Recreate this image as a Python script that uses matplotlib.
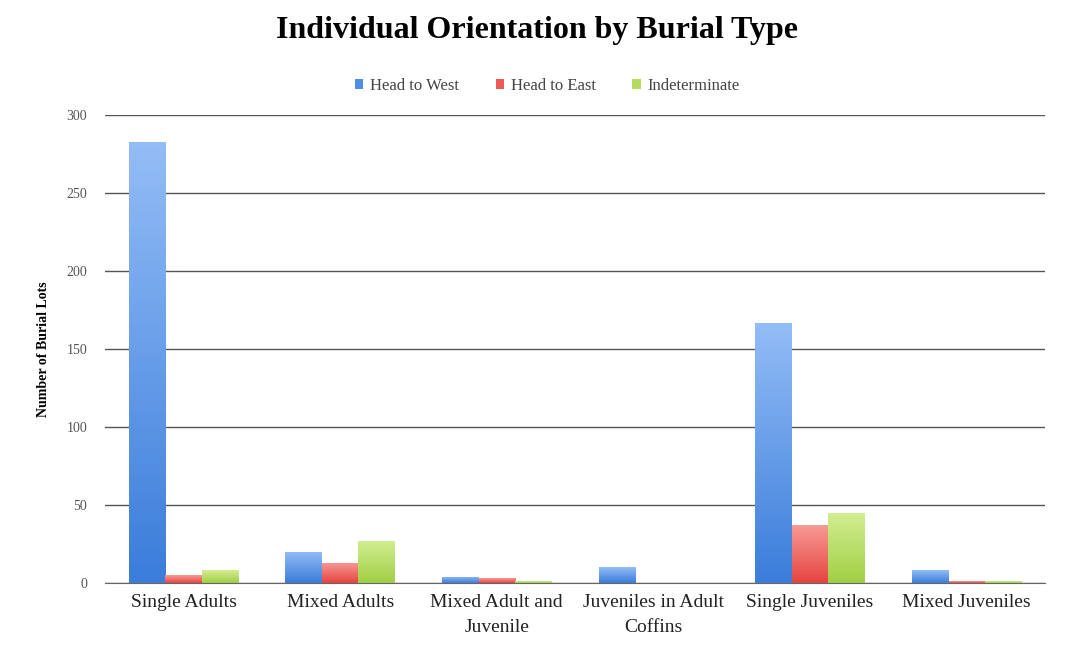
import numpy as np
import matplotlib.pyplot as plt
from matplotlib.colors import LinearSegmentedColormap

categories = ['Single Adults', 'Mixed Adults', 'Mixed Adult and\nJuvenile',
              'Juveniles in Adult\nCoffins', 'Single Juveniles', 'Mixed Juveniles']
head_west = [283, 20, 4, 10, 167, 8]
head_east = [5, 13, 3, 0, 37, 1]
indeterminate = [8, 27, 1, 0, 45, 1]
series_names = ['Head to West', 'Head to East', 'Indeterminate']

plt.rcParams['font.family'] = ['Liberation Serif', 'DejaVu Serif']

fig = plt.figure(figsize=(10.73, 6.51), dpi=100)
ax = fig.add_axes([0.098, 0.1045, 0.876, 0.7185])

x = np.arange(len(categories))
w = 0.233
colors = ['#4f8fe3', '#ee5a55', '#b3dc5e']
# (bottom, top) colours for the gradient fill
grads = [('#3b7ddb', '#93bdf6'), ('#e6443f', '#f79a95'), ('#a2cf45', '#d2ee92')]
for i, (vals, c, name) in enumerate(zip([head_west, head_east, indeterminate], colors, series_names)):
    bars = ax.bar(x + (i - 1) * w, vals, w, color=c, label=name, zorder=3)
    cmap = LinearSegmentedColormap.from_list('g%d' % i, grads[i])
    for b in bars:
        h = b.get_height()
        if h <= 0:
            continue
        x0 = b.get_x()
        grad = np.linspace(0, 1, 100).reshape(-1, 1)
        im = ax.imshow(grad, cmap=cmap, aspect='auto', origin='lower',
                       extent=[x0, x0 + w, 0, h], zorder=3.5)
        im.set_clip_path(b)

ax.set_ylim(0, 300)
ax.set_xlim(-0.5, len(categories) - 0.5)
ax.set_yticks(range(0, 301, 50))
ax.yaxis.grid(True, color='#555555', linewidth=1.0, zorder=0)
ax.set_xticks(x)
ax.set_xticklabels(categories, fontsize=14, color='#222222', linespacing=1.6)
ax.tick_params(axis='x', length=0, pad=8)
ax.tick_params(axis='y', length=0, labelsize=10, labelcolor='#555555', pad=13)
for s in ['top', 'right', 'left']:
    ax.spines[s].set_visible(False)
ax.spines['bottom'].set_color('#666666')
ax.spines['bottom'].set_zorder(4)

ax.set_ylabel('Number of Burial Lots', fontsize=10, fontweight='bold', labelpad=12)

fig.suptitle('Individual Orientation by Burial Type', fontsize=23, fontweight='bold', y=0.975)
fig.legend(loc='center', bbox_to_anchor=(0.51, 0.868), ncol=3, frameon=False,
           fontsize=12, handlelength=0.5, handleheight=0.5, columnspacing=2.2,
           handletextpad=0.4, labelcolor='#444444')

fig.savefig('out.png', dpi=100)
